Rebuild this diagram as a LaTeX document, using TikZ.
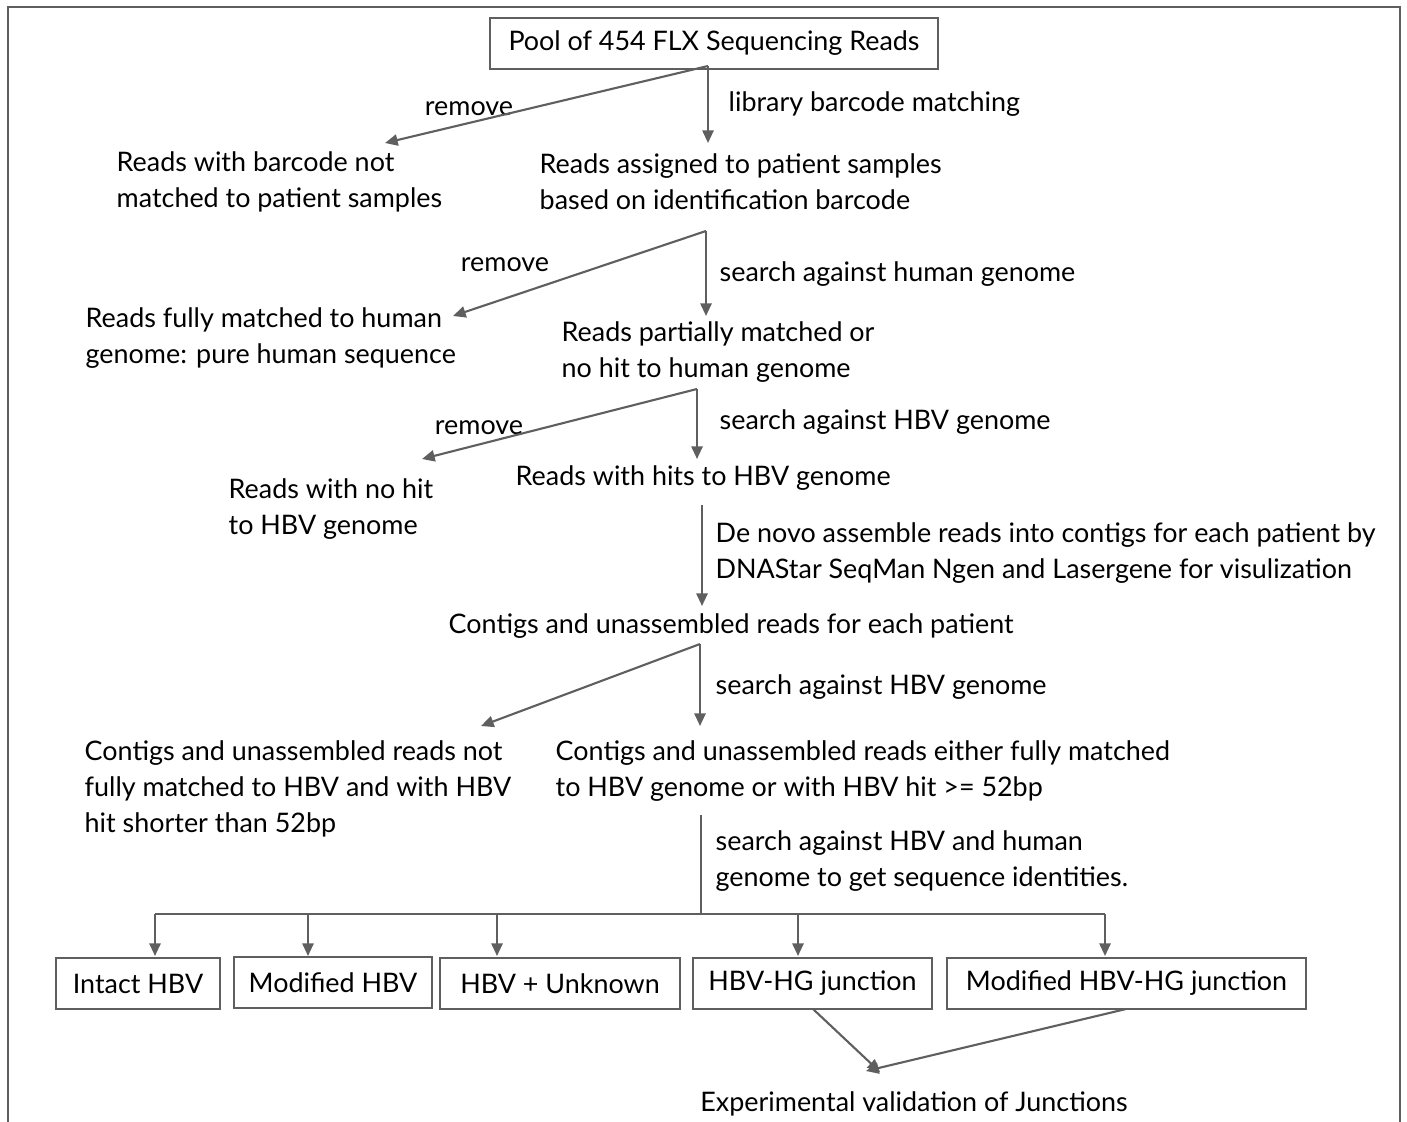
\documentclass[tikz,border=0pt]{standalone}
\usepackage{fontspec}
\setmainfont{Lato}
\usetikzlibrary{arrows.meta}
\definecolor{linegray}{RGB}{95,95,95}
\tikzset{
  arr/.style={draw=linegray, line width=0.6pt, -{Triangle[length=3.6pt,width=3.2pt]}},
  txt/.style={anchor=west, align=left, inner sep=0pt, yshift=-0.6pt},
  lbl/.style={inner sep=0pt, yshift=-0.6pt},
  box/.style={draw=linegray, line width=0.6pt, minimum height=0.51cm, inner sep=0pt}
}
\begin{document}
\begin{tikzpicture}[x=0.01cm, y=-0.01cm, font=\fontsize{7.65}{10.24}\selectfont]
\useasboundingbox (0,0) rectangle (1407,1122);
% frame
\draw[linegray, line width=0.6pt] (8,1122) -- (8,7) -- (1400,7) -- (1400,1122);

% top of the pipeline
\node[box, minimum width=4.47cm] (pool) at (714,43.5) {Pool of 454 FLX Sequencing Reads};
\node[txt] (nomatch) at (116,180) {Reads with barcode not\\matched to patient samples};
\node[txt] (assigned) at (539,180) {Reads assigned to patient samples\\based on identification barcode};
\node[txt] (human) at (85,336) {Reads fully matched to human\\genome: pure human sequence};
\node[txt] (partial) at (561,350) {Reads partially matched or\\no hit to human genome};
\node[txt] (nohbv) at (228,507) {Reads with no hit\\to HBV genome};
\node[txt] (hbvhit) at (515,476) {Reads with hits to HBV genome};
\node[txt] (contigs) at (448,624) {Contigs and unassembled reads for each patient};
\node[txt] (notfull) at (84,787) {Contigs and unassembled reads not\\fully matched to HBV and with HBV\\hit shorter than 52bp};
\node[txt] (full) at (555,769) {Contigs and unassembled reads either fully matched\\to HBV genome or with HBV hit >= 52bp};

% step labels
\node[lbl] (rm1) at (469,107) {remove};
\node[txt] (lb1) at (728,102) {library barcode matching};
\node[lbl] (rm2) at (505,263) {remove};
\node[txt] (lb2) at (719,272) {search against human genome};
\node[lbl] (rm3) at (479,426) {remove};
\node[txt] (lb3) at (719,420) {search against HBV genome};
\node[txt] (lb4) at (715,551) {De novo assemble reads into contigs for each patient by\\DNAStar SeqMan Ngen and Lasergene for visulization};
\node[txt] (lb5) at (715,685) {search against HBV genome};
\node[txt] (lb6) at (715,859) {search against HBV and human\\genome to get sequence identities.};

% classes
\node[box, minimum width=1.64cm] (intact) at (138,983.5) {Intact HBV};
\node[box, minimum width=1.98cm] (modhbv) at (333,982.5) {Modified HBV};
\node[box, minimum width=2.40cm] (unknown) at (560,983.5) {HBV + Unknown};
\node[box, minimum width=2.39cm] (junc) at (812.5,983.5) {HBV-HG junction};
\node[box, minimum width=3.59cm] (modjunc) at (1126.5,983.5) {Modified HBV-HG junction};
\node[lbl] (valid) at (914,1102) {Experimental validation of Junctions};

% fork points and arrow ends
\coordinate (f1) at (708,66);
\coordinate (e1) at (385,143);
\coordinate (f2) at (706,231);
\coordinate (e2) at (453,316);
\coordinate (f3) at (697,389);
\coordinate (e3) at (422,459);
\coordinate (f4) at (702,505);
\coordinate (f5) at (700,644);
\coordinate (e5) at (481,726);
\coordinate (f6) at (701,815);
\coordinate (f7) at (701,914);
\coordinate (v1) at (880,1072);
\coordinate (v2) at (866,1071);

\draw[arr] (f1) -- (f1 |- 0,143);
\draw[arr] (f1) -- (e1);
\draw[arr] (f2) -- (f2 |- 0,316);
\draw[arr] (f2) -- (e2);
\draw[arr] (f3) -- (f3 |- 0,459);
\draw[arr] (f3) -- (e3);
\draw[arr] (f4) -- (f4 |- 0,606);
\draw[arr] (f5) -- (f5 |- 0,726);
\draw[arr] (f5) -- (e5);
\draw[linegray, line width=0.6pt] (f6) -- (f7);
\draw[linegray, line width=0.6pt] (155,914) -- (1105,914);
\foreach \x/\t in {155/intact,308/modhbv,497/unknown,798/junc,1105/modjunc}
  \draw[arr] (\x,914) -- (\x,956);
\draw[arr] (813,1009) -- (v1);
\draw[arr] (1126,1009) -- (v2);
\end{tikzpicture}
\end{document}
